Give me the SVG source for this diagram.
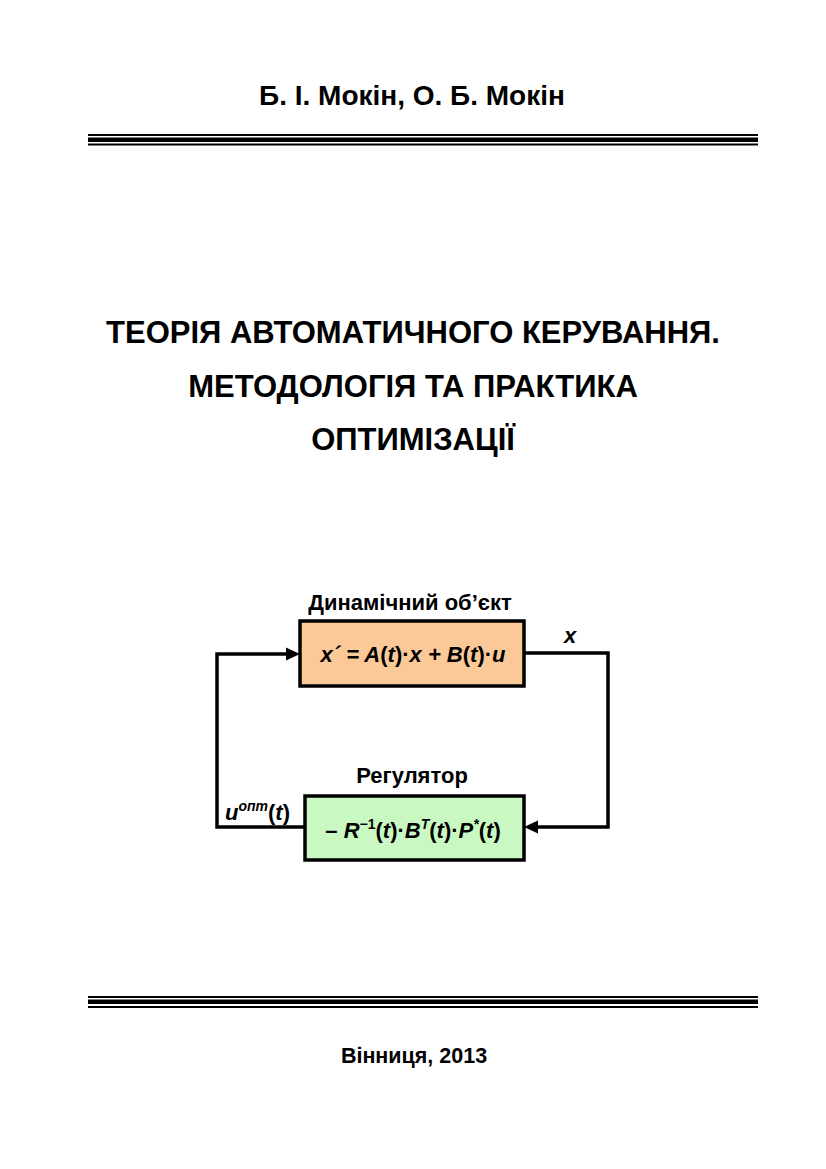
<svg xmlns="http://www.w3.org/2000/svg" width="826" height="1169" viewBox="0 0 826 1169">
<defs>
<style>
text{font-family:"Liberation Sans",Arial,sans-serif;font-weight:bold;fill:#000}
.bi{font-style:italic}
.box{stroke:#000;stroke-width:3.5}
.wire{fill:none;stroke:#000;stroke-width:3.5;stroke-linejoin:miter}
</style>
</defs>
<rect width="826" height="1169" fill="#fff"/>
<g id="header">
<text x="412" y="105" font-size="28" text-anchor="middle">Б. І. Мокін, О. Б. Мокін</text>
<rect x="88" y="134" width="670" height="2" fill="#000"/>
<rect x="88" y="137.5" width="670" height="4.5" fill="#000"/>
<rect x="88" y="143.5" width="670" height="2" fill="#000"/>
</g>
<g id="title">
<text x="413" y="343" font-size="31" text-anchor="middle">ТЕОРІЯ АВТОМАТИЧНОГО КЕРУВАННЯ.</text>
<text x="413" y="397" font-size="31" text-anchor="middle">МЕТОДОЛОГІЯ ТА ПРАКТИКА</text>
<text x="413" y="450" font-size="31" text-anchor="middle">ОПТИМІЗАЦІЇ</text>
</g>
<g id="connectors">
<polyline class="wire" points="524,653 608,653 608,827 538,827"/>
<polygon points="524,827 538,820.5 538,833.5" fill="#000"/>
<polyline class="wire" points="305,827 217,827 217,654 287,654"/>
<polygon points="300,654 286,647.5 286,660.5" fill="#000"/>
<text x="570" y="643" font-size="22" text-anchor="middle" class="bi">x</text>
<text x="225" y="820" font-size="22" class="bi">u<tspan font-size="14" dy="-9">опт</tspan><tspan dy="9" font-style="normal">(</tspan>t<tspan font-style="normal">)</tspan></text>
</g>
<g id="object">
<text x="410" y="610" font-size="22" text-anchor="middle">Динамічний об’єкт</text>
<rect class="box" x="300" y="621" width="224" height="65" fill="#fbc898"/>
<text x="413" y="662" font-size="22" text-anchor="middle" class="bi">x´ = A<tspan font-style="normal">(</tspan>t<tspan font-style="normal">)·</tspan>x + B<tspan font-style="normal">(</tspan>t<tspan font-style="normal">)·</tspan>u</text>
</g>
<g id="regulator">
<text x="412" y="783" font-size="22" text-anchor="middle">Регулятор</text>
<rect class="box" x="305" y="796" width="219" height="64" fill="#c9f8c2"/>
<text x="413" y="838" font-size="22" text-anchor="middle" class="bi"><tspan font-style="normal">– </tspan>R<tspan font-size="14" dy="-9" font-style="normal">−1</tspan><tspan dy="9" font-style="normal">(</tspan>t<tspan font-style="normal">)·</tspan>B<tspan font-size="14" dy="-9">T</tspan><tspan dy="9" font-style="normal">(</tspan>t<tspan font-style="normal">)·</tspan>P<tspan font-size="14" dy="-9">*</tspan><tspan dy="9" font-style="normal">(</tspan>t<tspan font-style="normal">)</tspan></text>
</g>
<g id="footer">
<rect x="88" y="996" width="670" height="2" fill="#000"/>
<rect x="88" y="999.5" width="670" height="4.5" fill="#000"/>
<rect x="88" y="1006" width="670" height="2" fill="#000"/>
<text x="414" y="1063" font-size="21.5" text-anchor="middle">Вінниця, 2013</text>
</g>
</svg>
